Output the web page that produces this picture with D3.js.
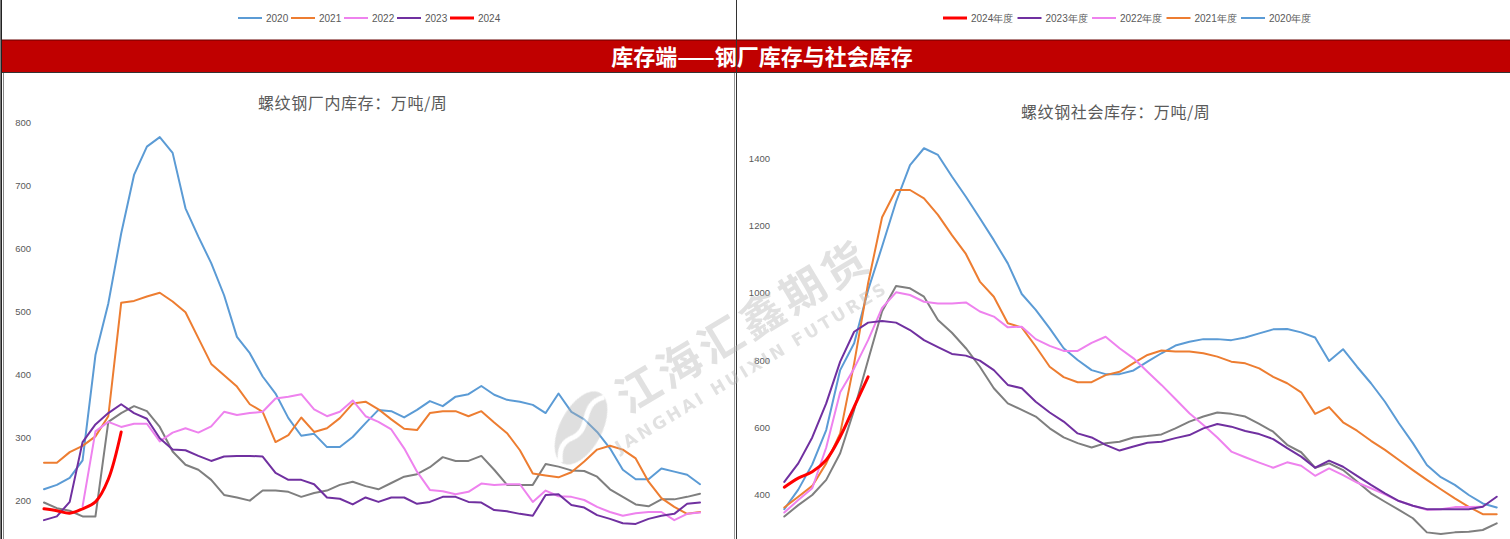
<!DOCTYPE html>
<html><head><meta charset="utf-8">
<script src="https://cdn.jsdelivr.net/npm/d3@7"></script>
<style>
html,body{margin:0;padding:0;background:#fff;overflow:hidden;}
svg{display:block;}
</style></head>
<body>
<svg id="c" width="1510" height="539"></svg>
<script>
// ---------- data ----------
const weeks = d3.range(1, 53); // 52 weekly points

// 螺纹钢厂内库存 (万吨)
const millGray = [196,187,183,174,174,324,338,349,341,316,277,256,248,232,208,204,199,215,215,213,205,211,215,224,229,222,217,227,237,241,252,268,262,262,270,248,224,224,224,257,253,247,246,237,217,205,193,190,201,201,205,210];
const mill2020 = [217,224,235,263,430,512,623,716,761,776,751,663,618,576,525,459,433,396,369,330,302,305,284,284,300,322,343,341,331,343,357,349,364,368,381,367,359,356,351,338,369,340,328,308,282,248,233,233,250,245,240,225];
const mill2021 = [259,259,276,286,301,333,513,516,523,529,515,498,457,416,398,380,352,340,292,303,331,308,314,330,353,356,344,328,313,311,338,341,341,333,341,323,306,279,242,239,236,244,261,280,286,280,266,229,203,189,178,181];
const mill2022 = [null,null,null,190,309,324,316,321,321,293,307,314,307,317,340,335,338,340,361,364,368,344,333,340,358,333,324,312,282,245,216,214,209,213,226,224,225,225,197,215,206,205,200,189,181,175,179,181,181,168,178,180];
const mill2023 = [168,174,197,292,320,338,352,338,329,298,280,279,270,262,269,270,270,269,243,232,232,225,204,202,193,204,197,204,204,194,197,205,205,197,196,184,182,178,175,208,209,192,188,176,170,163,162,170,175,178,194,196];
const mill2024 = [186,183,179,186,197,233,308];

// 螺纹钢社会库存 (万吨)
const socGray = [335,369,399,444,523,652,800,945,1020,1013,988,919,881,835,780,716,671,652,632,597,570,553,540,553,557,570,574,579,597,617,632,644,640,632,610,587,548,526,480,493,473,439,404,379,355,330,288,283,288,290,295,315];
const soc2020 = [357,415,490,592,770,850,1008,1137,1270,1379,1429,1409,1345,1285,1221,1156,1087,996,949,894,835,800,770,758,758,769,795,820,843,854,862,862,859,867,879,891,892,882,867,797,832,780,731,676,612,553,488,452,429,399,374,362];
const soc2021 = [362,394,426,493,582,790,1028,1224,1305,1305,1280,1231,1171,1115,1033,988,909,897,840,780,749,734,734,755,765,791,815,828,825,825,820,810,795,790,775,750,731,704,640,660,615,590,560,533,503,473,444,416,389,364,342,342];
const soc2022 = [347,384,419,540,704,775,859,955,1001,993,973,968,968,971,944,929,897,899,862,842,827,827,851,869,835,805,765,726,684,642,607,570,528,511,495,480,496,486,456,478,458,436,419,401,381,367,355,357,363,363,364,null];
const soc2023 = [438,493,570,671,795,884,911,916,911,889,859,838,818,813,798,770,726,716,676,644,617,582,570,548,531,543,554,557,568,577,597,610,602,589,580,565,538,513,480,501,483,456,429,404,381,367,357,357,357,357,364,394];
const soc2024 = [422,449,468,503,572,661,750];

const millTicks = [200,300,400,500,600,700,800];
const socTicks = [400,600,800,1000,1200,1400];

const leftLegend = ["2020","2021","2022","2023","2024"];
const rightLegend = ["2024年度","2023年度","2022年度","2021年度","2020年度"];

const bannerTitle = "库存端——钢厂库存与社会库存";
const leftTitle = "螺纹钢厂内库存：万吨/周";
const rightTitle = "螺纹钢社会库存：万吨/周";

// ---------- styles ----------
const C = {gray:"#7f7f7f", y2020:"#5b9bd5", y2021:"#ed7d31", y2022:"#ee82ee", y2023:"#7030a0", y2024:"#ff0000"};
const labelFont = "'Liberation Sans', Arial, sans-serif";
const cjk = "'Noto Sans CJK SC', sans-serif";

const svg = d3.select("#c");
svg.append("rect").attr("width",1510).attr("height",539).attr("fill","#fff");

// ---------- scales ----------
const xL = d3.scaleLinear().domain([0, weeks.length-1]).range([44, 700]);
const yL = d3.scaleLinear().domain([100, 800]).range([563, 122]);
const xR = d3.scaleLinear().domain([0, weeks.length-1]).range([784.3, 1496.7]);
const yR = d3.scaleLinear().domain([200, 1400]).range([562, 158]);

// ---------- frames ----------
svg.append("rect").attr("x",2).attr("y",40).attr("width",1508).attr("height",32).attr("fill","#c00000");
svg.append("line").attr("x1",2).attr("x2",1510).attr("y1",72.5).attr("y2",72.5).attr("stroke","#333").attr("stroke-width",1);
svg.append("line").attr("x1",2).attr("x2",1510).attr("y1",40).attr("y2",40).attr("stroke","#600").attr("stroke-width",1);
svg.append("line").attr("x1",1.2).attr("x2",1.2).attr("y1",0).attr("y2",539).attr("stroke","#222").attr("stroke-width",1.6);
svg.append("line").attr("x1",3.5).attr("x2",3.5).attr("y1",73).attr("y2",539).attr("stroke","#888").attr("stroke-width",1);
svg.append("line").attr("x1",734.5).attr("x2",734.5).attr("y1",73).attr("y2",539).attr("stroke","#999").attr("stroke-width",1);
svg.append("line").attr("x1",736.5).attr("x2",736.5).attr("y1",0).attr("y2",539).attr("stroke","#333").attr("stroke-width",1);

svg.append("text").attr("x",762).attr("y",64.5).attr("text-anchor","middle")
  .attr("font-family",cjk).attr("font-weight","bold").attr("font-size",22).attr("fill","#fff")
  .text(bannerTitle);

// ---------- legends ----------
function legend(items, colors, x0, y, widths) {
  let x = x0;
  items.forEach((t,i)=>{
    const g = svg.append("g");
    g.append("line").attr("x1",x).attr("x2",x+24).attr("y1",y).attr("y2",y)
      .attr("stroke",colors[i]).attr("stroke-width", colors[i]===C.y2024?3:2);
    g.append("text").attr("x",x+28).attr("y",y+3.5).attr("font-family",labelFont)
      .attr("font-size",10).attr("fill","#595959").text(t);
    x += widths;
  });
}
legend(leftLegend, [C.y2020,C.y2021,C.y2022,C.y2023,C.y2024], 238, 18, 53);
legend(rightLegend, [C.y2024,C.y2023,C.y2022,C.y2021,C.y2020], 943, 18, 74.5);

// ---------- titles ----------
svg.append("text").attr("x",258).attr("y",108.5).attr("font-family",cjk).attr("font-size",16)
  .attr("fill","#5a5a5a").attr("letter-spacing",0.6).text(leftTitle);
svg.append("text").attr("x",1021).attr("y",118).attr("font-family",cjk).attr("font-size",16)
  .attr("fill","#5a5a5a").attr("letter-spacing",0.6).text(rightTitle);

// ---------- axes ----------
function yAxis(scale, ticks, x) {
  const g = svg.append("g").attr("transform",`translate(${x},0)`)
    .call(d3.axisLeft(scale).tickValues(ticks).tickSize(0).tickPadding(3).tickFormat(d3.format("d")));
  g.select(".domain").remove();
  g.selectAll("text").attr("font-family",labelFont).attr("font-size",9.5).attr("fill","#595959");
}
yAxis(yL, millTicks, 34);
yAxis(yR, socTicks, 773);

// ---------- lines ----------
function draw(values, x, y, color, w, smooth) {
  const line = d3.line().defined(d=>d!=null).x((d,i)=>x(i)).y(d=>y(d));
  if (smooth) line.curve(d3.curveCatmullRom.alpha(0.5));
  svg.append("path").datum(values).attr("d",line).attr("fill","none")
    .attr("stroke",color).attr("stroke-width",w).attr("stroke-linejoin","round").attr("stroke-linecap","round");
}
[[millGray,C.gray],[mill2020,C.y2020],[mill2021,C.y2021],[mill2022,C.y2022],[mill2023,C.y2023]]
  .forEach(([v,c])=>draw(v,xL,yL,c,2,false));
draw(mill2024,xL,yL,C.y2024,3,true);

[[socGray,C.gray],[soc2020,C.y2020],[soc2021,C.y2021],[soc2022,C.y2022],[soc2023,C.y2023]]
  .forEach(([v,c])=>draw(v,xR,yR,c,2,false));
draw(soc2024,xR,yR,C.y2024,3,true);

// ---------- watermark ----------
const wm = svg.append("g").attr("opacity",0.4).attr("pointer-events","none");
wm.append("text").attr("transform","translate(745,330) rotate(-31)").attr("text-anchor","middle")
  .attr("dominant-baseline","middle")
  .attr("font-family",cjk).attr("font-weight","bold").attr("font-size",44).attr("letter-spacing",4)
  .attr("fill","#b5b5b5").text("江海汇鑫期货");
wm.append("text").attr("transform","translate(752,368) rotate(-31)").attr("text-anchor","middle")
  .attr("dominant-baseline","middle")
  .attr("font-family","'DejaVu Sans', sans-serif").attr("font-weight","bold").attr("font-size",17).attr("letter-spacing",3)
  .attr("fill","#b5b5b5").text("JANGHAI HUIXIN FUTURES");
const logo = wm.append("g").attr("transform","translate(581,428) rotate(28)");
logo.append("ellipse").attr("rx",21).attr("ry",40).attr("fill","#b0b0b0");
logo.append("path").attr("d","M6,-38 C-14,-20 12,-4 -4,14 C-12,24 -6,34 -2,40")
  .attr("fill","none").attr("stroke","#fff").attr("stroke-width",5);
</script>
</body></html>
